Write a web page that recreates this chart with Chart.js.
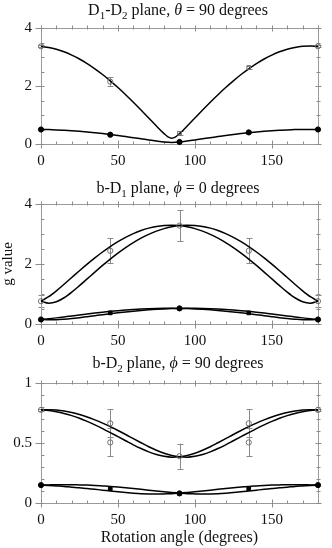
<!DOCTYPE html>
<html><head><meta charset="utf-8">
<script src="https://cdn.jsdelivr.net/npm/chart.js@4.4.1/dist/chart.umd.min.js"></script>
<style>
html,body{margin:0;padding:0;background:#fff;}
#wrap{position:relative;width:332px;height:548px;overflow:hidden;background:#fff;}
canvas{position:absolute;left:0;}
</style></head><body>
<div id="wrap">
<canvas id="c1" width="332" height="172" style="top:0px"></canvas>
<canvas id="c2" width="332" height="180" style="top:172px"></canvas>
<canvas id="c3" width="332" height="196" style="top:352px"></canvas>
</div>
<script>
// ---------------- DATA ----------------
const xTickLabels = [0, 50, 100, 150];
const yTicksP12 = [0, 2, 4];
const yTicksP3 = [0, 0.5, 1];

const markerAngles = [0, 45, 90, 135, 180];
const curveAngles = [0,5,10,15,20,25,30,35,40,45,50,55,60,65,70,75,80,85,90,95,100,105,110,115,120,125,130,135,140,145,150,155,160,165,170,175,180];
const p1UpperAngles = [0,5,10,15,20,25,30,35,40,45,50,55,60,65,70,75,80,82.5,85,87.5,90,95,100,105,110,115,120,125,130,135,140,145,150,155,160,165,170,175,180];

// Panel 1: D1-D2 plane
const p1OpenValues = [3.37, 2.15, 0.37, 2.64, 3.37];
const p1OpenErrors = [0.04, 0.15, 0.07, 0.06, 0.04];
const p1FilledValues = [0.50, 0.32, 0.07, 0.40, 0.50];
const p1UpperCurve = [3.369,3.331,3.267,3.179,3.067,2.931,2.773,2.594,2.396,2.179,1.947,1.700,1.441,1.172,0.897,0.620,0.356,0.248,0.200,0.248,0.356,0.620,0.897,1.172,1.441,1.700,1.947,2.179,2.396,2.594,2.773,2.931,3.067,3.179,3.267,3.331,3.369,3.382,3.369];
const p1LowerCurve = [0.502,0.496,0.487,0.473,0.457,0.437,0.413,0.387,0.358,0.326,0.292,0.255,0.218,0.178,0.139,0.100,0.066,0.050,0.066,0.100,0.139,0.178,0.218,0.255,0.292,0.326,0.358,0.387,0.413,0.437,0.457,0.473,0.487,0.496,0.502,0.503,0.502];

// Panel 2: b-D1 plane
const p2OpenValues = [0.76, 2.44, 3.28, 2.44, 0.76];
const p2OpenErrors = [0.2, 0.42, 0.52, 0.42, 0.2];
const p2FilledValues = [0.15, 0.37, 0.52, 0.37, 0.15];
const p2OpenCurveA = [0.760,0.910,1.106,1.325,1.551,1.776,1.995,2.204,2.400,2.581,2.744,2.888,3.012,3.114,3.195,3.252,3.285,3.295,3.280,3.242,3.180,3.096,2.989,2.861,2.712,2.546,2.362,2.163,1.952,1.731,1.505,1.280,1.064,0.875,0.740,0.695,0.760];
const p2OpenCurveB = [0.760,0.695,0.740,0.875,1.064,1.280,1.505,1.731,1.952,2.163,2.362,2.546,2.712,2.861,2.989,3.096,3.180,3.242,3.280,3.295,3.285,3.252,3.195,3.114,3.012,2.888,2.744,2.581,2.400,2.204,1.995,1.776,1.551,1.325,1.106,0.910,0.760];
const p2FilledCurveA = [0.155,0.176,0.204,0.236,0.268,0.302,0.334,0.365,0.394,0.421,0.445,0.466,0.484,0.499,0.510,0.518,0.522,0.523,0.520,0.513,0.502,0.488,0.471,0.451,0.427,0.401,0.373,0.342,0.310,0.277,0.244,0.212,0.183,0.160,0.145,0.144,0.155];
const p2FilledCurveB = [0.155,0.144,0.145,0.160,0.183,0.212,0.244,0.277,0.310,0.342,0.373,0.401,0.427,0.451,0.471,0.488,0.502,0.513,0.520,0.523,0.522,0.518,0.510,0.499,0.484,0.466,0.445,0.421,0.394,0.365,0.334,0.302,0.268,0.236,0.204,0.176,0.155];

// Panel 3: b-D2 plane
const p3OpenAngles = [0, 45, 45, 90, 135, 135, 180];
const p3OpenValues = [0.776, 0.664, 0.505, 0.39, 0.664, 0.505, 0.776];
const p3OpenErrors = [0.01, 0.117, 0.117, 0.105, 0.117, 0.117, 0.01];
const p3FilledValues = [0.149, 0.119, 0.080, 0.119, 0.149];
const p3OpenCurveA = [0.776,0.777,0.774,0.766,0.754,0.737,0.717,0.693,0.666,0.636,0.604,0.571,0.536,0.502,0.469,0.440,0.415,0.396,0.385,0.382,0.389,0.404,0.426,0.454,0.485,0.519,0.553,0.587,0.620,0.651,0.680,0.706,0.728,0.746,0.760,0.770,0.776];
const p3OpenCurveB = [0.776,0.770,0.760,0.746,0.728,0.706,0.680,0.651,0.620,0.587,0.553,0.519,0.485,0.454,0.426,0.404,0.389,0.382,0.385,0.396,0.415,0.440,0.469,0.502,0.536,0.571,0.604,0.636,0.666,0.693,0.717,0.737,0.754,0.766,0.774,0.777,0.776];
const p3FilledCurveA = [0.149,0.151,0.153,0.153,0.153,0.151,0.149,0.146,0.142,0.138,0.133,0.127,0.121,0.114,0.107,0.100,0.094,0.088,0.083,0.078,0.076,0.075,0.076,0.078,0.082,0.087,0.093,0.100,0.107,0.114,0.120,0.127,0.132,0.138,0.142,0.146,0.149];
const p3FilledCurveB = [0.149,0.146,0.142,0.138,0.132,0.127,0.120,0.114,0.107,0.100,0.093,0.087,0.082,0.078,0.076,0.075,0.076,0.078,0.083,0.088,0.094,0.100,0.107,0.114,0.121,0.127,0.133,0.138,0.142,0.146,0.149,0.151,0.153,0.153,0.153,0.151,0.149];

const panelTitles = [
  [['D'],['1','sub'],['-D'],['2','sub'],[' plane, '],['\u03B8','it'],[' = 90 degrees']],
  [['b-D'],['1','sub'],[' plane, '],['\u03D5','it'],[' = 0 degrees']],
  [['b-D'],['2','sub'],[' plane, '],['\u03D5','it'],[' = 90 degrees']]
];
const yAxisTitle = 'g value';
const xAxisTitle = 'Rotation angle (degrees)';

// ---------------- RENDERING ----------------
const FONT = "'Liberation Serif','Times New Roman',serif";
const FRAME = '#9a9a9a';
const TICKC = '#8c8c8c';
const ERRC = '#8a8a8a';

function pts(xs, ys){ return xs.map((v,i)=>({x:v, y:ys[i]})); }
function curve(xs, ys){
  return {data:pts(xs,ys), borderColor:'#000', borderWidth:1.5, pointRadius:0, pointHoverRadius:0,
    cubicInterpolationMode:'monotone', fill:false, clip:false, order:2};
}
function markers(xs, ys, filled, styles){
  return {data:pts(xs,ys), showLine:false, pointRadius:2.6, pointHoverRadius:2.6,
    pointStyle: styles || 'circle',
    pointBackgroundColor: filled ? '#000' : 'rgba(255,255,255,0)',
    pointBorderColor: filled ? '#000' : '#6e6e6e', pointBorderWidth: 1, clip:false, order:1};
}

const framePlugin = {
  id: 'frame',
  beforeDatasetsDraw(chart){
    const o = chart.options.plugins.frame;
    const {ctx, chartArea:a, scales:{x, y}} = chart;
    ctx.save();
    ctx.strokeStyle = ERRC; ctx.lineWidth = 1;
    o.errX.forEach((xv,i)=>{
      const px = Math.round(x.getPixelForValue(xv)) + 0.5;
      const y1 = y.getPixelForValue(o.errY[i] - o.errE[i]);
      const y2 = y.getPixelForValue(o.errY[i] + o.errE[i]);
      ctx.beginPath();
      ctx.moveTo(px, y1); ctx.lineTo(px, y2);
      ctx.moveTo(px-3, Math.round(y1)+0.5); ctx.lineTo(px+3, Math.round(y1)+0.5);
      ctx.moveTo(px-3, Math.round(y2)+0.5); ctx.lineTo(px+3, Math.round(y2)+0.5);
      ctx.stroke();
    });
    const L = Math.round(a.left)+0.5, R = Math.round(a.right)+0.5, T = Math.round(a.top)+0.5, B = Math.round(a.bottom)+0.5;
    ctx.strokeStyle = FRAME;
    ctx.strokeRect(L, T, R-L, B-T);
    ctx.strokeStyle = TICKC;
    ctx.beginPath();
    for (let v = x.min; v <= x.max + 1e-9; v += o.xMinor){
      const px = Math.round(x.getPixelForValue(v)) + 0.5;
      const major = Math.abs(v % o.xMajor) < 1e-9;
      ctx.moveTo(px, B + (major?4:0)); ctx.lineTo(px, B - (major?4:3));
      ctx.moveTo(px, T - 3); ctx.lineTo(px, T + (major?3:1));
    }
    for (let k = 0; k <= Math.round((y.max - y.min)/o.yMinor); k++){
      const v = y.min + k*o.yMinor;
      const py = Math.round(y.getPixelForValue(v)) + 0.5;
      const r = v / o.yMajor;
      const major = Math.abs(r - Math.round(r)) < 1e-6;
      ctx.moveTo(L - (major?6:0), py); ctx.lineTo(L + 3, py);
      ctx.moveTo(R - (major?3:2), py); ctx.lineTo(R + (major?3:2), py);
    }
    ctx.stroke();
    ctx.restore();
  },
  afterDraw(chart){
    const o = chart.options.plugins.frame;
    const {ctx} = chart;
    const size = 16;
    const segs = o.title;
    ctx.save();
    ctx.fillStyle = '#111';
    ctx.textBaseline = 'alphabetic';
    ctx.textAlign = 'left';
    const fontOf = s => (s[1]==='it' ? 'italic ' : '') + (s[1]==='sub' ? 11 : size) + 'px ' + FONT;
    let total = 0;
    const widths = segs.map(s => { ctx.font = fontOf(s); const w = ctx.measureText(s[0]).width; total += w; return w; });
    let xx = o.titleX - total/2;
    segs.forEach((s,i) => {
      ctx.font = fontOf(s);
      ctx.fillText(s[0], xx, o.titleBase + (s[1]==='sub' ? 4 : 0));
      xx += widths[i];
    });
    ctx.restore();
  }
};

function makeChart(id, cfg){
  const xTitle = cfg.xTitle ? {display:true, text:cfg.xTitle, color:'#111', font:{family:FONT, size:16}, padding:{top:0,bottom:1}} : {display:false};
  const yTitle = cfg.yTitle ? {display:true, text:cfg.yTitle, color:'#111', font:{family:FONT, size:15, lineHeight:1.1}, padding:{top:0,bottom:0}} : {display:false};
  return new Chart(document.getElementById(id), {
    type: 'line',
    data: {datasets: cfg.datasets},
    options: {
      responsive:false, animation:false, events:[], devicePixelRatio:1,
      layout:{padding:{left:0, right:14, top:cfg.top, bottom:0}},
      plugins:{legend:{display:false}, tooltip:{enabled:false}, title:{display:false},
        frame:{title:cfg.title, titleX:178, titleBase:cfg.titleBase,
          errX:cfg.errX, errY:cfg.errY, errE:cfg.errE, xMinor:10, xMajor:50, yMinor:cfg.yMinor, yMajor:cfg.yMajor}},
      scales:{
        x:{type:'linear', position:'bottom', min:0, max:180,
          grid:{display:false, drawTicks:false}, border:{display:false},
          ticks:{padding:8, color:'#111', maxRotation:0, autoSkip:false,
            font:{family:FONT, size:15}, callback:v => String(v)},
          afterBuildTicks(s){ s.ticks = xTickLabels.map(v=>({value:v})); },
          afterFit(s){ s.height = cfg.xh; },
          title:xTitle},
        y:{type:'linear', position:'left', min:0, max:cfg.ymax,
          grid:{display:false, drawTicks:false}, border:{display:false},
          ticks:{padding:9, color:'#111', font:{family:FONT, size:15}, callback:v => String(v)},
          afterBuildTicks(s){ s.ticks = cfg.yTicks.map(v=>({value:v})); },
          afterFit(s){ s.width = 41; },
          title:yTitle}
      }
    },
    plugins:[framePlugin]
  });
}

makeChart('c1', {
  top:28, xh:28, ymax:4, yTicks:yTicksP12, yMinor:0.5, yMajor:2, titleBase:15, title:panelTitles[0],
  errX:markerAngles, errY:p1OpenValues, errE:p1OpenErrors,
  datasets:[
    markers(markerAngles, p1FilledValues, true),
    markers(markerAngles, p1OpenValues, false, ['circle','circle','rect','rect','circle']),
    curve(p1UpperAngles, p1UpperCurve),
    curve(curveAngles, p1LowerCurve)
  ]
});

makeChart('c2', {
  top:32, xh:28, ymax:4, yTicks:yTicksP12, yMinor:0.5, yMajor:2, titleBase:21, title:panelTitles[1], yTitle:yAxisTitle,
  errX:markerAngles, errY:p2OpenValues, errE:p2OpenErrors,
  datasets:[
    markers(markerAngles, p2FilledValues, true, ['circle','rect','circle','rect','circle']),
    markers(markerAngles, p2OpenValues, false),
    curve(curveAngles, p2OpenCurveA),
    curve(curveAngles, p2OpenCurveB),
    curve(curveAngles, p2FilledCurveA),
    curve(curveAngles, p2FilledCurveB)
  ]
});

makeChart('c3', {
  top:31, xh:45, ymax:1, yTicks:yTicksP3, yMinor:0.1, yMajor:0.5, titleBase:16, title:panelTitles[2], xTitle:xAxisTitle,
  errX:p3OpenAngles, errY:p3OpenValues, errE:p3OpenErrors,
  datasets:[
    markers(markerAngles, p3FilledValues, true, ['circle','rect','circle','rect','circle']),
    markers(p3OpenAngles, p3OpenValues, false),
    curve(curveAngles, p3OpenCurveA),
    curve(curveAngles, p3OpenCurveB),
    curve(curveAngles, p3FilledCurveA),
    curve(curveAngles, p3FilledCurveB)
  ]
});
</script>
</body></html>
